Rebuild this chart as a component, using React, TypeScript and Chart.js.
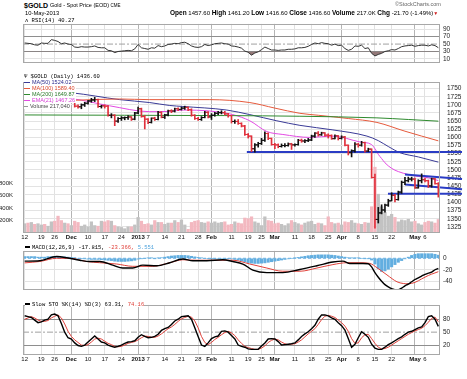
import React, { useEffect, useRef } from "react";
import { Chart, registerables } from "chart.js";

Chart.register(...registerables);

// ---------- X axis (trading-day index) ----------
const xTickIdx = [0, 5, 9, 14, 19, 24, 29, 34, 37, 42, 47, 52, 56, 62, 67, 71, 75, 81, 86, 91, 95, 100, 105, 110, 117, 120];
const xTickLabels = ["12", "19", "26", "Dec", "10", "17", "24", "2013", "7", "14", "21", "28", "Feb", "11", "19", "25", "Mar", "11", "18", "25", "Apr", "8", "15", "22", "May", "6"];
const boldLabels = ["Dec", "2013", "Feb", "Mar", "Apr", "May"];

// ---------- Price (daily OHLC) ----------
const open = [1728,1731,1725,1730,1714, 1714,1734,1727,1728, 1752,1749,1741,1716,1726, 1712,1719,1696,1694,1700, 1705,1712,1715,1716,1695, 1697,1696,1668,1668,1650, 1658,1660,1661,1663, 1656,1675,1688,1664, 1656,1646,1659,1655,1677, 1662,1669,1682,1681,1688, 1686,1690,1692,1685,1668, 1658,1655,1661,1677,1663, 1668,1674,1676,1676,1672, 1667,1649,1649,1643,1635, 1609,1604,1565,1577, 1581,1591,1612,1597,1578, 1577,1572,1575,1575,1580, 1577,1578,1591,1589,1590, 1592,1604,1613,1608,1614, 1607,1606,1596,1605, 1597,1601,1576,1553,1559, 1579,1576,1584,1558,1564, 1477,1348,1368,1377,1392, 1405,1422,1409,1432,1462, 1467,1472,1472,1445,1467, 1470,1467,1451,1473,1457.6];
const high = [1736,1733,1734,1732,1720, 1736,1737,1733,1754, 1755,1752,1743,1731,1729, 1723,1720,1700,1703,1708, 1714,1720,1723,1718,1699, 1700,1698,1673,1670,1661, 1664,1663,1667,1664, 1677,1693,1690,1668, 1658,1660,1662,1680,1679, 1671,1684,1685,1690,1691, 1693,1696,1694,1688,1670, 1662,1664,1680,1679,1673, 1677,1680,1682,1680,1674, 1668,1654,1655,1645,1637, 1612,1605,1581,1585, 1597,1617,1614,1598,1582, 1580,1580,1581,1583,1582, 1580,1594,1595,1593,1597, 1607,1615,1618,1616,1615, 1611,1608,1608,1606, 1605,1603,1577,1562,1584, 1582,1588,1586,1567,1565, 1487,1385,1393,1395,1410, 1430,1425,1435,1466,1477, 1478,1478,1475,1470,1488, 1474,1469,1475,1474,1461.2];
const low = [1722,1721,1722,1710,1706, 1712,1722,1720,1727, 1743,1738,1706,1714,1708, 1710,1693,1690,1688,1695, 1702,1708,1710,1692,1690, 1690,1665,1660,1636,1646, 1652,1654,1655,1652, 1654,1673,1662,1626, 1642,1644,1652,1654,1660, 1658,1666,1676,1678,1682, 1684,1686,1682,1665,1655, 1652,1652,1660,1660,1655, 1665,1670,1672,1669,1662, 1644,1643,1640,1632,1606, 1598,1556,1555,1570, 1578,1588,1593,1576,1565, 1568,1570,1571,1573,1563, 1573,1576,1585,1584,1587, 1590,1600,1604,1606,1604, 1598,1594,1595,1592, 1595,1574,1546,1540,1555, 1570,1573,1555,1556,1475, 1321,1337,1365,1370,1388, 1405,1402,1407,1428,1455, 1463,1466,1443,1444,1460, 1463,1446,1447,1456,1416.6];
const close = [1731,1725,1730,1714,1714, 1734,1727,1728,1752, 1749,1741,1716,1726,1712, 1719,1696,1694,1700,1705, 1712,1715,1716,1695,1697, 1696,1668,1668,1650,1658, 1660,1661,1663,1656, 1675,1688,1664,1656, 1646,1659,1655,1677,1662, 1669,1682,1681,1688,1686, 1690,1692,1685,1668,1658, 1655,1661,1677,1663,1668, 1674,1676,1676,1672,1667, 1649,1649,1643,1635,1609, 1604,1565,1577,1581, 1591,1612,1597,1578,1577, 1572,1575,1575,1580,1577, 1578,1591,1589,1590,1592, 1604,1613,1608,1614,1607, 1606,1596,1605,1597, 1601,1576,1553,1559,1579, 1576,1584,1558,1564,1477, 1348,1368,1377,1392,1405, 1422,1409,1432,1462,1467, 1472,1472,1445,1467,1470, 1467,1451,1473,1458,1436.6];
// volume in thousands
const volume = [150,160,170,140,150, 130,140,110,180, 190,270,200,160,150, 120,190,170,110,130, 100,180,120,110,190, 180,200,190,120,100, 90,70,100,100, 130,250,190,140, 150,130,200,170,170, 140,160,160,200,170, 210,130,60,170,190, 200,170,160,180,160, 180,160,170,180,130, 140,180,160,150,240, 230,260,180,160, 120,260,200,190,150, 160,140,120,150,200, 170,150,130,160,180, 190,140,160,150,120, 260,170,150,160, 130,180,170,200,160, 150,140,170,160,420, 1050,620,420,330,270, 300,250,180,210,200, 220,180,190,150,130, 170,190,180,160,217];

// ---------- Overlays [dayIndex, value] ----------
const ma50 = [[0,1746],[14.1,1737],[28.5,1716],[37.5,1707],[43.5,1698],[47.4,1695],[60.6,1684],[67.5,1670],[75.6,1651],[82.5,1637],[92.4,1623],[102.6,1604],[106,1590],[109,1572],[112.5,1553],[118,1540],[124,1524.02]];
const ma100 = [[0,1708],[15,1714],[28.5,1718],[37.5,1716],[55.5,1716],[67.5,1707],[75,1690],[82.5,1674],[88,1668],[97,1658],[105.6,1646],[114,1619],[124,1589.4]];
const ma200 = [[0,1669],[30,1668],[60,1667],[82.5,1665],[105.6,1660],[115,1655],[124,1649.87]];
const ema21 = [[0,1727],[14.1,1719],[25.5,1697],[37.5,1679],[43.5,1680],[47.4,1684],[55.5,1681],[62.4,1670],[67.5,1651],[72.6,1618],[77.4,1609],[85.5,1600],[92.4,1604],[100.5,1586],[104,1578],[105,1565],[106,1548],[107,1535],[108,1522],[110,1505],[112,1495],[115,1486],[118,1480],[121,1476],[124,1467.26]];
const trendSupport1555 = [[66.6,1555],[131.1,1555]];
const trendSupport1427 = [[108.9,1427],[131.1,1427]];
const channelUpper = [[114,1486],[131.1,1472]];
const channelLower = [[114,1455],[131.1,1441]];

// ---------- Indicators ----------
const rsi = [53,52,51,48,47,53,52,52,62,60, 57,51,53,50,49,42,41,43,42,42, 43,45,41,40,40,33,32,27,30,31, 32,33,32,37,49,40,38,36,40,39, 46,43,45,49,50,52,51,54,55,51, 45,42,41,43,49,46,48,51,52,53, 51,50,45,44,42,39,31,28,20,26, 29,35,42,38,34,34,33,34,34,36, 36,37,40,40,41,44,49,53,51,54, 52,51,47,50,46,47,38,33,36,45, 44,47,38,40,25,18,22,25,30,32, 35,34,38,43,45,46,47,44,46,47, 47,45,48,46,40.27];
const macdLine = [[0,-5],[4.5,-4.3],[9.6,3],[12.6,1],[16.5,-3.4],[19.5,-5.6],[22.5,-5.6],[26.4,-12],[29.4,-17],[32.4,-17],[35.4,-12],[39.6,-13],[43.5,-7.7],[47.4,-1.3],[50.4,-4.3],[54.6,-4.3],[59.4,-2.6],[62.4,-5.6],[65.4,-10],[68.4,-20.6],[72.6,-25],[77.4,-25],[82.5,-19.5],[87.6,-13],[92.4,-6.5],[95.4,-5],[97.5,-9],[101.4,-9],[103,-9.5],[104,-15],[105,-25],[106,-33],[107,-40],[108,-46],[109,-50],[110,-53],[111,-55],[112,-55],[113,-52],[114,-48],[115,-45],[116,-41],[117,-37],[118,-34],[119,-31],[120,-28],[121,-26],[122,-24],[123,-20],[124,-17.815]];
const signalLine = [[0,-8],[4.5,-5.6],[9.6,0],[13.5,0],[18.6,-5.6],[22.5,-7.7],[27.6,-10],[32.4,-14],[38.4,-14],[43.5,-7.7],[47.4,-2.6],[51.6,-3.4],[56.4,-3.4],[62.4,-3.4],[67.5,-10],[72.6,-17],[77.4,-22.6],[82.5,-22.6],[87.6,-17],[92.4,-11],[96.6,-7.7],[100.5,-7.7],[103.5,-9],[105.6,-16.4],[108.6,-29],[111.6,-41],[113.5,-44],[115,-44.5],[117,-42],[119,-36],[121,-30],[123,-25.5],[124,-23.366]];
const macdHist = [3,3,3,3,2,2,2,3,3,3.5,3.5,3,2.5,2,1.5,1,0, -0.5,-1,-1.5,-2,-2,-2,-2.5,-3,-3.5,-4, -5,-5.5,-5.5,-5.5,-5,-4.5,-3.5,-1.5, -0.5,0,0.5,0.5,-0.5,0.5,1,2,3, 4,4.5,5,5,5,4.5,3.5,2.5,1.5,0.5,0, -0.5,-0.5,-0.5,-1,-1,-0.5,-0.5,-1,-2, -3,-4.5,-6,-7.5,-8.5,-9,-9,-8.5,-8, -7,-6,-5,-4,-3,-2,-1,0,0.5, 1.5,2.5,3.5,4.5,5,5.5,6,6,6,6,5.5,5,4,3, 2,1,0.5,0.5,0.5,0,-0.5,-0.5,-3, -10,-18,-23,-22,-19,-15,-11,-7,-4,-1, 2,5,7,8,8,8,8,8,7,5.55];
const stoK = [88,86,84,78,72,74,78,80,90,92, 88,70,50,37,34,25,19,17,20,27, 34,41,34,27,25,20,17,15,17,20, 24,27,28,30,38,44,40,37,38,40, 45,54,58,61,68,76,80,86,87,88, 80,60,40,20,17,25,35,39,41,52, 53,50,42,34,20,17,15,11,10,10, 10,18,25,34,35,34,28,20,21,22, 23,25,32,40,46,51,58,66,80,90, 90,88,83,80,72,65,55,35,15,22, 37,51,45,38,22,13,10,10,15,21, 25,30,35,39,45,50,52,56,60,62, 72,86,88,80,63.31];
const stoD = [80,83,86,83,78,75,75,77,83,87, 90,83,69,52,40,32,26,20,19,21, 27,34,36,34,29,24,21,17,16,17, 20,24,26,28,32,37,41,40,38,38, 41,46,52,58,62,68,75,81,84,87, 85,76,60,40,26,21,26,33,38,44, 49,52,48,42,32,24,17,14,12,10, 10,13,18,26,31,34,32,27,23,21, 22,23,27,32,39,46,52,58,68,79, 87,89,87,84,78,72,64,52,35,24, 25,37,44,45,35,24,15,11,12,15, 20,25,30,35,40,45,49,53,56,59, 65,73,82,85,74.16];

const priceTicks = [1325,1350,1375,1400,1425,1450,1475,1500,1525,1550,1575,1600,1625,1650,1675,1700,1725,1750];
const volTicks = [200, 400, 600, 800];
const rsiTicks = [10, 30, 50, 70, 90];
const macdTicks = [-40, -20, 0];
const stoTicks = [20, 50, 80];

// ---------- helpers ----------
const FONT = "'Liberation Sans', Arial, sans-serif";
const MONO = "'Liberation Mono', 'DejaVu Sans Mono', monospace";
const RIGHT_W = 27;
const LEFT_W = 23;

const pts = (a: number[][]) => a.map(([x, y]) => ({ x, y }));
const daily = (a: number[]) => a.map((y, i) => ({ x: i, y }));
const isUp = close.map((c, i) => c >= (i === 0 ? open[0] : close[i - 1]));
const barColors = isUp.map((u) => (u ? "#111111" : "#e0303c"));
const volColors = isUp.map((u) => (u ? "#c2c2c2" : "#f3b8c0"));

const framePlugin = {
  id: "frame",
  afterDraw(chart: any) {
    const { ctx, chartArea: a } = chart;
    ctx.save();
    ctx.strokeStyle = "#a8a8a8";
    ctx.lineWidth = 1;
    ctx.strokeRect(Math.round(a.left) + 0.5, Math.round(a.top) + 0.5, Math.round(a.width) - 1, Math.round(a.height) - 1);
    ctx.restore();
  },
};

function xScale(showLabels: boolean, height: number) {
  return {
    type: "linear",
    min: -0.5,
    max: 124.5,
    offset: false,
    afterBuildTicks: (s: any) => { s.ticks = xTickIdx.map((v) => ({ value: v })); },
    afterFit: (s: any) => { s.height = height; },
    ticks: {
      display: showLabels,
      autoSkip: false,
      maxRotation: 0,
      minRotation: 0,
      padding: 1,
      color: "#111",
      font: (c: any) => ({ family: FONT, size: 6, weight: boldLabels.includes(xTickLabels[c.index]) ? "bold" : "normal" }),
      callback: (_v: any, i: number) => xTickLabels[i],
    },
    grid: {
      offset: false,
      drawTicks: false,
      color: (c: any) => (boldLabels.includes(xTickLabels[c.index]) ? "#b4b4b4" : "#e1e1e1"),
    },
    border: { display: false },
  };
}

function yRight(min: number, max: number, ticks: number[], padding: number, gridColor: any) {
  return {
    position: "right",
    min,
    max,
    afterBuildTicks: (s: any) => { s.ticks = ticks.map((v) => ({ value: v })); },
    afterFit: (s: any) => { s.width = RIGHT_W; },
    ticks: { autoSkip: false, padding, color: "#222", font: { family: FONT, size: 6.5 }, callback: (v: any) => String(v) },
    grid: { drawTicks: false, color: gridColor },
    border: { display: false },
  };
}

const common = {
  responsive: false,
  animation: false,
  events: [],
  plugins: { legend: { display: false }, tooltip: { enabled: false } },
};

const lineDs = (data: any[], color: string, width: number, extra: any = {}) => ({
  type: "line",
  data,
  borderColor: color,
  borderWidth: width,
  pointRadius: 0,
  fill: false,
  ...extra,
});

const hline = (v: number, color: string, dash: number[]) =>
  lineDs([{ x: -0.5, y: v }, { x: 124.5, y: v }], color, 1, { borderDash: dash, order: 20 });

function rsiConfig(): any {
  return {
    type: "line",
    data: {
      datasets: [
        lineDs(daily(rsi), "#333", 1, {
          fill: { target: { value: 30 }, above: "rgba(0,0,0,0)", below: "rgba(135,105,105,0.9)" },
          order: 1,
        }),
        hline(50, "#a0a0a0", [6, 2, 2, 2]),
      ],
    },
    options: {
      ...common,
      layout: { padding: { left: LEFT_W, right: 0, top: 0, bottom: 0 } },
      scales: {
        x: xScale(false, 0),
        y: yRight(-1.4, 104.6, rsiTicks, 3, (c: any) =>
          c.tick.value === 30 || c.tick.value === 70 ? "#8e8e8e" : c.tick.value === 50 ? "rgba(0,0,0,0)" : "#e3e3e3"),
      },
    },
    plugins: [framePlugin],
  };
}

function mainConfig(): any {
  const blue = "#2a3cc4";
  const tlOpts = { order: 3, clip: { left: 0, top: 0, right: 30, bottom: 0 } };
  return {
    type: "bar",
    data: {
      datasets: [
        { type: "bar", yAxisID: "vol", data: daily(volume), backgroundColor: volColors, barThickness: 2.6, grouped: false, order: 10 },
        lineDs(pts(ma200), "#2e8a2e", 1, { yAxisID: "y", tension: 0.4, cubicInterpolationMode: "monotone", order: 6 }),
        lineDs(pts(ma100), "#e65a3c", 1, { yAxisID: "y", tension: 0.4, cubicInterpolationMode: "monotone", order: 6 }),
        lineDs(pts(ma50), "#3a3a96", 1, { yAxisID: "y", tension: 0.4, cubicInterpolationMode: "monotone", order: 6 }),
        lineDs(pts(ema21), "#e34ae3", 1, { yAxisID: "y", tension: 0.4, cubicInterpolationMode: "monotone", order: 6 }),
        lineDs(pts(trendSupport1555), blue, 2, { yAxisID: "y", ...tlOpts }),
        lineDs(pts(trendSupport1427), blue, 2, { yAxisID: "y", ...tlOpts }),
        lineDs(pts(channelUpper), blue, 2, { yAxisID: "y", ...tlOpts }),
        lineDs(pts(channelLower), blue, 2, { yAxisID: "y", ...tlOpts }),
        {
          type: "bar", yAxisID: "y",
          data: close.map((_c, i) => ({ x: i, y: [low[i], high[i]] })),
          backgroundColor: barColors, barThickness: 1, grouped: false, order: 2,
        },
        {
          type: "line", yAxisID: "y", showLine: false,
          data: open.map((o, i) => ({ x: i - 0.4, y: o })),
          pointStyle: "line", pointRadius: 1.3, pointBorderWidth: 1, pointBorderColor: barColors, order: 1,
        },
        {
          type: "line", yAxisID: "y", showLine: false,
          data: close.map((c, i) => ({ x: i + 0.4, y: c })),
          pointStyle: "line", pointRadius: 1.3, pointBorderWidth: 1, pointBorderColor: barColors, order: 1,
        },
      ],
    },
    options: {
      ...common,
      layout: { padding: 0 },
      scales: {
        x: xScale(true, 8),
        y: yRight(1306, 1770.5, priceTicks, 7, "#e3e3e3"),
        vol: {
          axis: "y",
          position: "left",
          min: 0,
          max: 2409,
          afterBuildTicks: (s: any) => { s.ticks = volTicks.map((v) => ({ value: v })); },
          afterFit: (s: any) => { s.width = LEFT_W; },
          ticks: { autoSkip: false, padding: 2, color: "#222", font: { family: FONT, size: 6 }, callback: (v: any) => v + "K" },
          grid: { display: false },
          border: { display: false },
        },
      },
    },
    plugins: [framePlugin],
  };
}

function macdConfig(): any {
  return {
    type: "bar",
    data: {
      datasets: [
        { type: "bar", data: daily(macdHist), backgroundColor: "#62aee0", borderColor: "#3b88c4", borderWidth: 0, barThickness: 2.4, grouped: false, order: 10 },
        hline(0, "#6fb2e2", [3, 2]),
        lineDs(pts(signalLine), "#e0413a", 1, { tension: 0.4, cubicInterpolationMode: "monotone", order: 2 }),
        lineDs(pts(macdLine), "#000", 1.4, { tension: 0.4, cubicInterpolationMode: "monotone", order: 1 }),
      ],
    },
    options: {
      ...common,
      layout: { padding: { left: LEFT_W, right: 0, top: 0, bottom: 0 } },
      scales: {
        x: xScale(false, 0),
        y: yRight(-55.5, 12.9, macdTicks, 3, (c: any) => (c.tick.value === 0 ? "rgba(0,0,0,0)" : "#e3e3e3")),
      },
    },
    plugins: [framePlugin],
  };
}

function stoConfig(): any {
  return {
    type: "line",
    data: {
      datasets: [
        hline(50, "#a0a0a0", [6, 2, 2, 2]),
        lineDs(daily(stoD), "#e0413a", 1, { order: 2 }),
        lineDs(daily(stoK), "#000", 1.4, { order: 1 }),
      ],
    },
    options: {
      ...common,
      layout: { padding: { left: LEFT_W, right: 0, top: 0, bottom: 0 } },
      scales: {
        x: xScale(true, 12),
        y: yRight(-3.1, 113.3, stoTicks, 3, (c: any) =>
          c.tick.value === 20 || c.tick.value === 80 ? "#8e8e8e" : "rgba(0,0,0,0)"),
      },
    },
    plugins: [framePlugin],
  };
}

const T = ({ x, y, s, w = "normal", c = "#000", f = FONT, bg, children }: any) => (
  <div style={{ position: "absolute", left: x, top: y, fontSize: s, fontWeight: w, color: c, fontFamily: f, lineHeight: 1, whiteSpace: "nowrap", background: bg }}>
    {children}
  </div>
);

const Dash = ({ color, w = 6 }: any) => (
  <span style={{ display: "inline-block", width: w, height: 1.2, background: color, verticalAlign: "middle", marginRight: 2 }} />
);

const LegendRow = ({ color, children, mono }: any) => (
  <div style={{ height: 6.1 }}>
    <span style={{ background: "#fff", color, fontFamily: mono ? MONO : FONT, paddingRight: 1 }}>{children}</span>
  </div>
);

export default function App() {
  const rsiRef = useRef<HTMLCanvasElement>(null);
  const mainRef = useRef<HTMLCanvasElement>(null);
  const macdRef = useRef<HTMLCanvasElement>(null);
  const stoRef = useRef<HTMLCanvasElement>(null);

  useEffect(() => {
    const charts = [
      new Chart(rsiRef.current as any, rsiConfig()),
      new Chart(mainRef.current as any, mainConfig()),
      new Chart(macdRef.current as any, macdConfig()),
      new Chart(stoRef.current as any, stoConfig()),
    ];
    return () => charts.forEach((c) => c.destroy());
  }, []);

  const cv = (top: number, h: number) => ({ position: "absolute" as const, left: 0, top, width: 467, height: h });
  const lbl = { fontWeight: "bold", fontSize: 6.5 } as any;
  const num = { fontSize: 6 } as any;

  return (
    <div style={{ position: "absolute", left: 0, top: 0, width: 467, height: 379, background: "#fff", overflow: "hidden" }}>
      <canvas ref={rsiRef} width={467} height={53} style={cv(17, 53)} />
      <canvas ref={mainRef} width={467} height={173} style={cv(71, 173)} />
      <canvas ref={macdRef} width={467} height={53} style={cv(244, 53)} />
      <canvas ref={stoRef} width={467} height={69} style={cv(298, 69)} />

      {/* header */}
      <T x={24} y={1.5} s={7} w="bold">$GOLD</T>
      <T x={50} y={3} s={5.5}>Gold - Spot Price (EOD) <span style={{ fontSize: 4.5 }}>CME</span></T>
      <T x={25} y={10.5} s={5.8}>10-May-2013</T>
      <T x={395} y={1.5} s={5.5} c="#666">©StockCharts.com</T>
      <T x={170} y={10} s={6}>
        <span style={lbl}>Open</span> <span style={num}>1457.60</span> <span style={lbl}>High</span> <span style={num}>1461.20</span>{" "}
        <span style={lbl}>Low</span> <span style={num}>1416.60</span> <span style={lbl}>Close</span> <span style={num}>1436.60</span>{" "}
        <span style={lbl}>Volume</span> <span style={num}>217.0K</span> <span style={lbl}>Chg</span>{" "}
        <span style={num}>-21.70 (-1.49%)</span><span style={{ color: "#d02020", fontSize: 5 }}>▼</span>
      </T>

      {/* RSI legend */}
      <T x={25} y={17.5} s={5.5} f={MONO} bg="#fff">ʌ RSI(14) 40.27</T>

      {/* main legend */}
      <div style={{ position: "absolute", left: 24, top: 72.5, fontSize: 5.5, lineHeight: "6.1px", whiteSpace: "nowrap" }}>
        <LegendRow color="#000" mono>Ψ $GOLD (Daily) 1436.60</LegendRow>
        <LegendRow color="#2b2b8c"><Dash color="#3a3a96" />MA(50) 1524.02</LegendRow>
        <LegendRow color="#d8452b"><Dash color="#e65a3c" />MA(100) 1589.40</LegendRow>
        <LegendRow color="#2a7a2a"><Dash color="#2e8a2e" />MA(200) 1649.87</LegendRow>
        <LegendRow color="#d63cd6"><Dash color="#e34ae3" />EMA(21) 1467.26</LegendRow>
        <LegendRow color="#444"><Dash color="#999" w={4} />Volume 217,040</LegendRow>
      </div>

      {/* MACD legend */}
      <T x={25} y={244.5} s={5.5} f={MONO} bg="#fff">
        <Dash color="#000" w={5} />MACD(12,26,9) -17.815, <span style={{ color: "#e0413a" }}>-23.366,</span> <span style={{ color: "#4fa3dc" }}>5.551</span>
      </T>

      {/* STO legend */}
      <T x={25} y={301.5} s={5.5} f={MONO} bg="#fff">
        <Dash color="#000" w={5} />Slow STO %K(14) %D(3) 63.31, <span style={{ color: "#e0413a" }}>74.16</span>
      </T>
    </div>
  );
}
